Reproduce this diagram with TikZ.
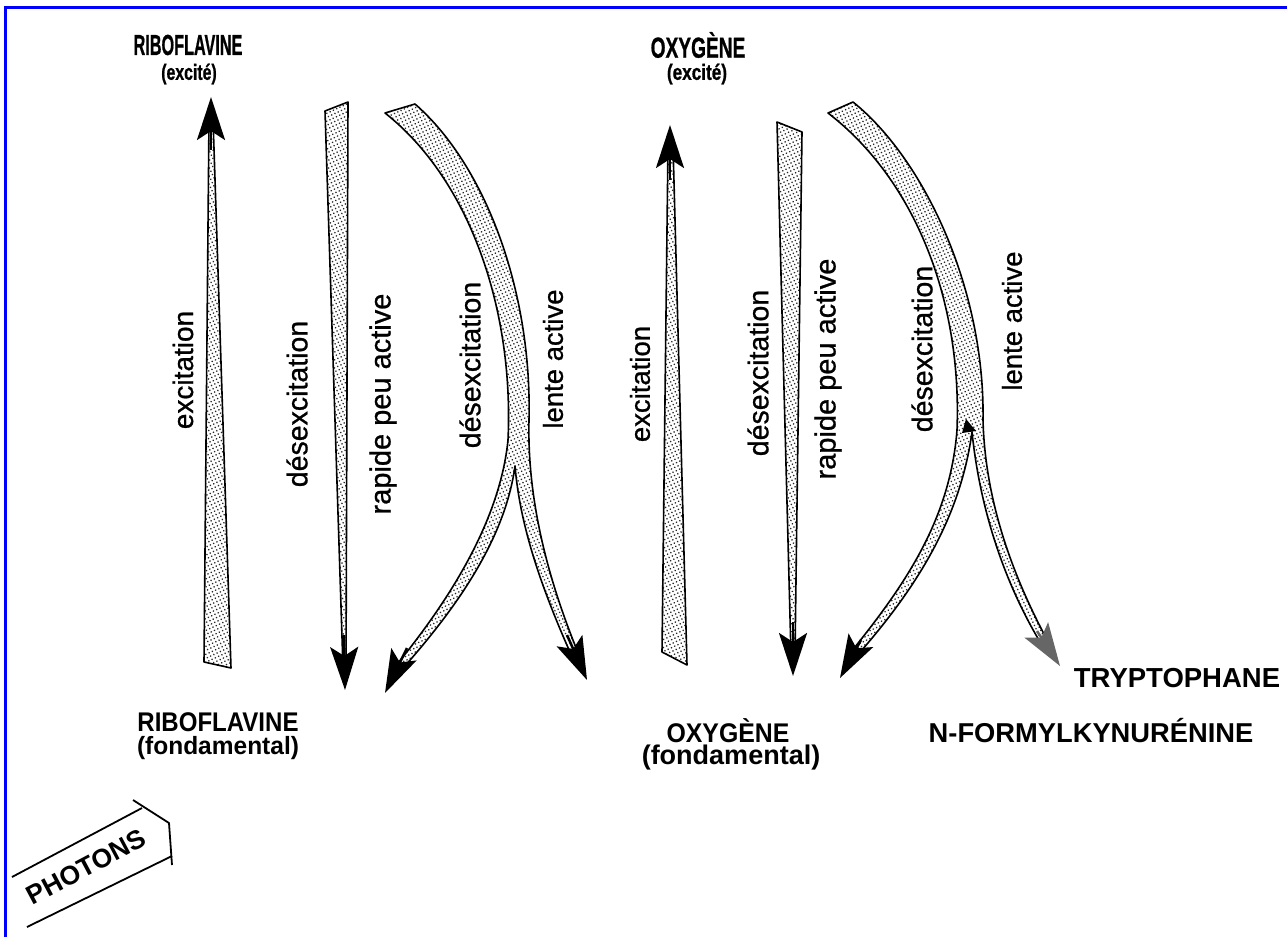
\documentclass[tikz,border=0pt]{standalone}
\usepackage{fontspec}
\setmainfont{Liberation Sans}
\newfontfamily\medf[FakeBold=0.8]{Liberation Sans}
\newfontfamily\hvb[BoldFeatures={FakeBold=1}]{Liberation Sans}
\usetikzlibrary{arrows.meta,patterns.meta}
\newcommand{\mylab}[3]{\scalebox{#2}[1]{\fontsize{#1pt}{#1pt}\selectfont\bfseries #3}}
\newcommand{\toplab}[3]{\scalebox{#2}[1]{\hvb\fontsize{#1pt}{#1pt}\selectfont\bfseries #3}}
\tikzset{
  band/.style={draw=black, line width=1.6pt, line join=round,
    pattern={Dots[distance=3.6pt,radius=0.9pt,angle=25]}, pattern color=black!85},
  ahead/.style={line width=2.5pt, -{Stealth[length=43pt,width=28pt,inset=9pt]}},
  rot/.style={rotate=90, inner sep=0pt},
  lab/.style={inner sep=0pt}
}
\newcommand{\rf}[1]{\medf\fontsize{#1pt}{#1pt}\selectfont}
\begin{document}
\begin{tikzpicture}[x=1pt,y=-1pt]
\useasboundingbox (0,0) rectangle (1287,937);
\fill[white] (0,0) rectangle (1287,937);
\draw[blue, line width=2.2pt] (5.5,937) -- (5.5,7.5) -- (1287,7.5);

% ---------- left group ----------
% excitation
\filldraw[band] (204,662) -- (231,668) -- (213,118) -- (209,118) -- cycle;
\coordinate (lxs) at (211,150);
\coordinate (lxt) at (211,97);
\draw[ahead] (lxs) -- (lxt);
% rapide peu active
\filldraw[band] (325,111) -- (348,102) -- (346,668) -- (343,668) -- cycle;
\coordinate (lrs) at (344,635);
\coordinate (lrt) at (345,690);
\draw[ahead] (lrs) -- (lrt);
% curved band with two branches
\filldraw[band] (385,113) -- (415,104)
  .. controls (485,165) and (532,290) .. (529,420)
  .. controls (527,500) and (548,580) .. (579,655)
  -- (572.6,658)
  .. controls (540,585) and (520,525) .. (515,466)
  .. controls (505,540) and (455,610) .. (400,671.5)
  -- (393.7,668.3)
  .. controls (450,600) and (500,520) .. (508,440)
  .. controls (514,310) and (470,180) .. (385,113) -- cycle;
\coordinate (lls) at (407,648);
\coordinate (llt) at (385,693);
\draw[ahead] (lls) -- (llt);
\coordinate (lts) at (567,635);
\coordinate (ltt) at (587,680);
\draw[ahead] (lts) -- (ltt);

% ---------- right group ----------
\filldraw[band] (662,652) -- (687,665) -- (673,145) -- (668,145) -- cycle;
\coordinate (rxs) at (670,180);
\coordinate (rxt) at (670,125);
\draw[ahead] (rxs) -- (rxt);
\filldraw[band] (777,122) -- (802,132) -- (795,655) -- (791,655) -- cycle;
\coordinate (rrs) at (793,622);
\coordinate (rrt) at (793,676);
\draw[ahead] (rrs) -- (rrt);
\filldraw[band] (828,113) -- (853,102)
  .. controls (925,160) and (985,290) .. (983,420)
  .. controls (985,500) and (1012,575) .. (1048.5,642.5)
  -- (1042.7,646.3)
  .. controls (1005,585) and (980,510) .. (972,432)
  .. controls (960,520) and (915,590) .. (855.8,657)
  -- (849.7,653.6)
  .. controls (905,585) and (950,520) .. (957,430)
  .. controls (962,300) and (915,180) .. (828,113) -- cycle;
\fill[black] (966,419) -- (976,431) -- (962,433) -- cycle;
\coordinate (rls) at (861,640);
\coordinate (rlt) at (840,678);
\draw[ahead] (rls) -- (rlt);
\coordinate (rts) at (1037,631);
\coordinate (rtt) at (1060,666);
\draw[ahead, black!60] (rts) -- (rtt);

% ---------- labels ----------
\node[lab] (rib1) at (188,45) {\toplab{29}{0.56}{RIBOFLAVINE}};
\node[lab] (rib1b) at (189,74) {\toplab{22}{0.72}{(excité)}};
\node[lab] (oxy1) at (698,45) {\toplab{29}{0.66}{OXYGÈNE}};
\node[lab] (oxy1b) at (697,74) {\toplab{22}{0.78}{(excité)}};
\node[lab] (rib0) at (218,722) {\mylab{27}{0.89}{RIBOFLAVINE}};
\node[lab] (rib0b) at (218,748) {\mylab{25}{0.98}{(fondamental)}};
\node[lab] (oxy0) at (728,731) {\mylab{27}{0.92}{OXYGÈNE}};
\node[lab] (oxy0b) at (731,758) {\mylab{27}{1}{(fondamental)}};
\node[lab] (tryp) at (1177,678) {\mylab{27.5}{1}{TRYPTOPHANE}};
\node[lab] (nfk) at (1091,731) {\mylab{27.3}{1}{N-FORMYLKYNURÉNINE}};

\node[rot, font=\rf{28}] (t1) at (183,370) {excitation};
\node[rot, font=\rf{28.5}] (t2) at (297,404) {désexcitation};
\node[rot, font=\rf{29}] (t3) at (383,404) {rapide peu active};
\node[rot, font=\rf{28.5}] (t4) at (470,365) {désexcitation};
\node[rot, font=\rf{27.5}] (t5) at (553,359) {lente active};
\node[rot, font=\rf{27.5}] (t6) at (640,384) {excitation};
\node[rot, font=\rf{28.5}] (t7) at (758,373) {désexcitation};
\node[rot, font=\rf{29}] (t8) at (828,369) {rapide peu active};
\node[rot, font=\rf{28.5}] (t9) at (922,349) {désexcitation};
\node[rot, font=\rf{27.5}] (t10) at (1012,321) {lente active};

% ---------- photons ----------
\draw[line width=1.8pt] (12,877) -- (142,808);
\draw[line width=1.8pt] (27,927) -- (172,856);
\draw[line width=1.8pt, line join=round] (133,800) -- (169,823) -- (172,865);
\node[lab, rotate=28, font=\fontsize{26.5pt}{26.5pt}\selectfont\bfseries] (ph) at (86,867) {PHOTONS};
\end{tikzpicture}
\end{document}
